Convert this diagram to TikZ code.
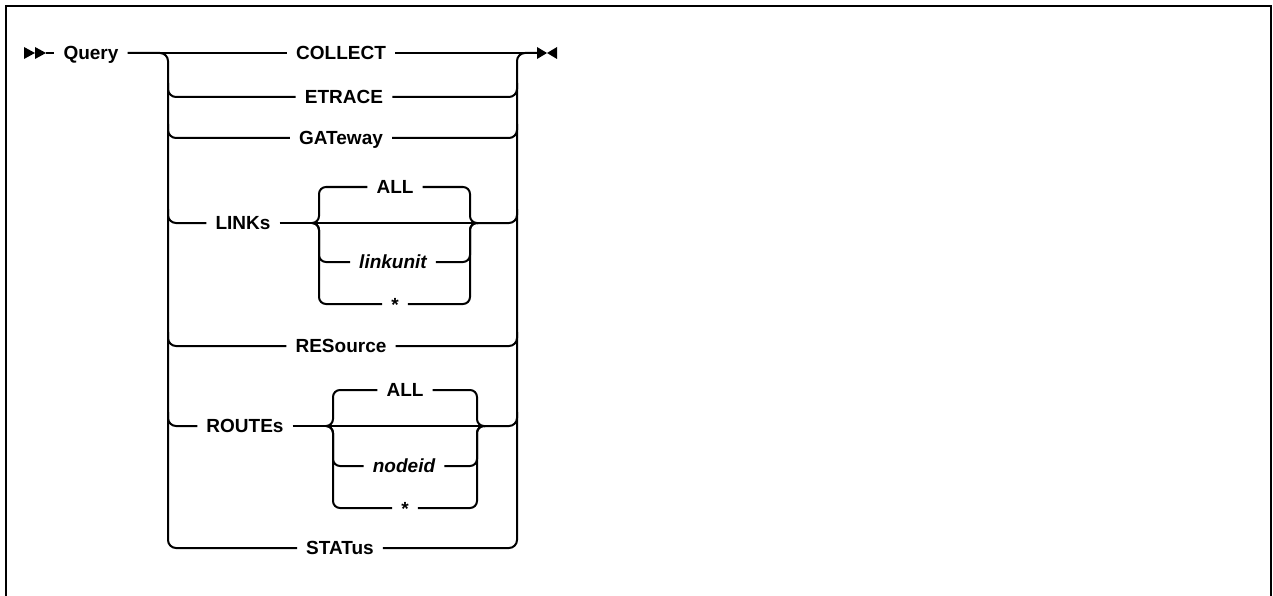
\documentclass[tikz,border=0pt]{standalone}
\usepackage{fontspec}
\setmainfont{Liberation Sans}
\usetikzlibrary{positioning, calc}

\begin{document}
\begin{tikzpicture}[x=1pt, y=-1pt,
    kw/.style={inner xsep=9pt, inner ysep=0pt, text height=13.5pt, text depth=0pt, font=\fontsize{19}{21}\selectfont\bfseries},
    var/.style={kw, font=\fontsize{19}{21}\selectfont\bfseries\itshape},
    rail/.style={draw=black, line width=2pt, rounded corners=8pt},
    brk/.style={rail, rounded corners=7pt},
    tip/.style={fill=black}
]
    \useasboundingbox (0,0) rectangle (1273,596);
    \draw[line width=2.8pt] (6,600) -- (6,6) -- (1271,6) -- (1271,600);

    % Keywords and variables
    \node [kw] (query) at (91,53) {Query};
    \node [kw] (collect) at (341,53) {COLLECT};
    \node [kw] (etrace) at (344,97) {ETRACE};
    \node [kw] (gateway) at (341,138) {GATeway};
    \node [kw] (links) at (243,223) {LINKs};
    \node [kw] (lkall) at (395,187) {ALL};
    \node [var] (linkunit) at (393,262) {linkunit};
    \node [kw] (lkstar) at (395,304) {\raisebox{-0.5pt}{*}};
    \node [kw] (resource) at (341,346) {RESource};
    \node [kw] (routes) at (245,426) {ROUTEs};
    \node [kw] (rtall) at (405,390) {ALL};
    \node [var] (nodeid) at (404,466) {nodeid};
    \node [kw] (rtstar) at (405,508) {\raisebox{-0.5pt}{*}};
    \node [kw] (status) at (340,548) {STATus};

    \coordinate (start) at (24,53);
    \coordinate (fin) at (537,53);
    \coordinate (lsplit) at (168,53);
    \coordinate (rjoin) at (517,53);
    \coordinate (lkin) at (312,223);
    \coordinate (lkout) at (478,223);
    \coordinate (rtin) at (326,426);
    \coordinate (rtout) at (485,426);

    % Start and end marks
    \fill[tip] (start) ++(0,-6) -- ++(11,6) -- ++(-11,6) -- cycle;
    \fill[tip] (start) ++(11,-6) -- ++(11,6) -- ++(-11,6) -- cycle;
    \fill[tip] (fin) ++(0,-6) -- ++(10,6) -- ++(-10,6) -- cycle;
    \fill[tip] (fin) ++(20,-6) -- ++(-10,6) -- ++(10,6) -- cycle;

    % Main line and rails
    \draw[rail] ($(start)+(22,0)$) -- (query.west);
    \draw[rail] (query.east) -- (collect.west);
    \draw[rail] (collect.east) -- (fin);
    \draw[rail] (query.east) -| (lsplit |- status) -- (status.west);
    \draw[rail] (status.east) -| (rjoin) -- (fin);
    \foreach \row in {etrace,gateway,links,resource,routes}
        \draw[rail] ($(lsplit |- \row)+(0,-14)$) |- (\row.west);
    \foreach \row/\src in {etrace/etrace.east,gateway/gateway.east,links/lkout,resource/resource.east,routes/rtout}
        \draw[rail] (\src) -| ($(rjoin |- \row)+(0,-14)$);

    % LINKs choices
    \draw[rail] (links.east) -- (lkin) -- (lkout);
    \foreach \opt in {lkall,linkunit,lkstar} {
        \draw[brk] (\opt.west) -| ($(lkin)+(7,0)$) -- (lkin);
        \draw[brk] (\opt.east) -| ($(lkout)+(-8,0)$) -- (lkout);
    }

    % ROUTEs choices
    \draw[rail] (routes.east) -- (rtin) -- (rtout);
    \foreach \opt in {rtall,nodeid,rtstar} {
        \draw[brk] (\opt.west) -| ($(rtin)+(7,0)$) -- (rtin);
        \draw[brk] (\opt.east) -| ($(rtout)+(-8,0)$) -- (rtout);
    }
\end{tikzpicture}
\end{document}
